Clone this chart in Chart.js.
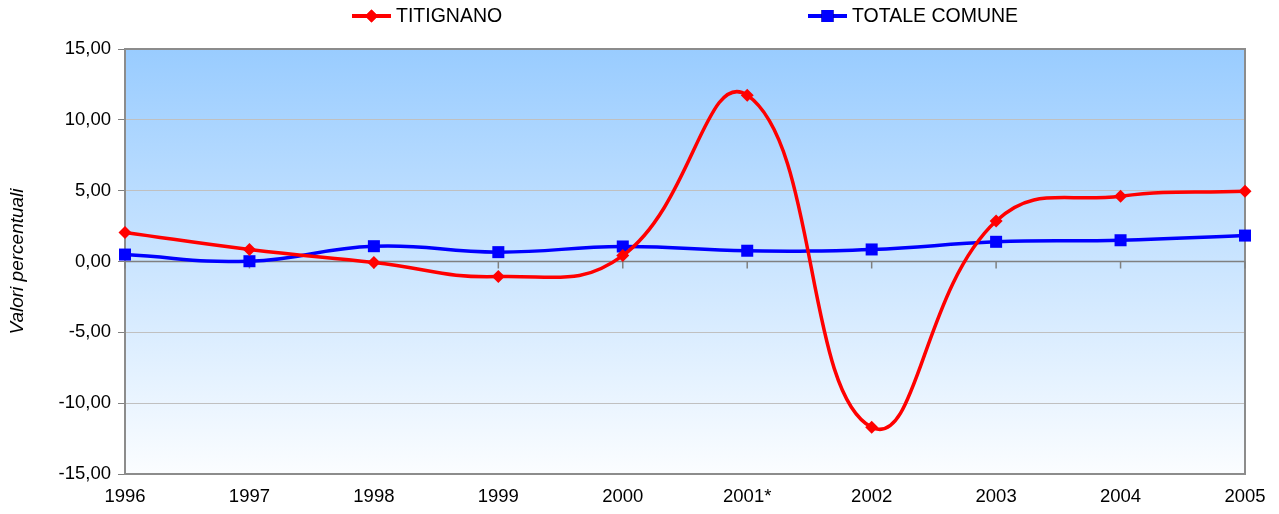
<!DOCTYPE html>
<html>
<head>
<meta charset="utf-8">
<script src="https://cdn.jsdelivr.net/npm/chart.js"></script>
<style>
    html, body { margin: 0; padding: 0; background: #ffffff; }
    #wrap { width: 1279px; height: 514px; }
</style>
</head>
<body>
<div id="wrap"><canvas id="chart" width="1279" height="514"></canvas></div>
<script>
const years = ['1996', '1997', '1998', '1999', '2000', '2001*', '2002', '2003', '2004', '2005'];
const titignano = [2.05, 0.85, -0.07, -1.06, 0.42, 11.74, -11.70, 2.86, 4.61, 4.96];
const totaleComune = [0.49, 0.02, 1.08, 0.66, 1.06, 0.76, 0.85, 1.39, 1.50, 1.83];
const yTicks = [-15, -10, -5, 0, 5, 10, 15];

const FONT = 'Arial, "Liberation Sans", sans-serif';

// gradient behind the plot area
const plotBackground = {
    id: 'plotBackground',
    beforeDraw(chart) {
        const { ctx, chartArea: a } = chart;
        const g = ctx.createLinearGradient(0, a.top, 0, a.bottom);
        g.addColorStop(0, '#99ccff');
        g.addColorStop(1, '#fbfdff');
        ctx.save();
        ctx.fillStyle = g;
        ctx.fillRect(a.left, a.top, a.right - a.left, a.bottom - a.top);
        ctx.restore();
    },
    beforeDatasetsDraw(chart) {
        const { ctx, chartArea: a, scales } = chart;
        ctx.save();
        // frame
        ctx.strokeStyle = '#8c8c8c';
        ctx.lineWidth = 2;
        ctx.strokeRect(a.left, a.top, a.right - a.left, a.bottom - a.top);
        // category axis sits on zero, with short tick marks
        const y0 = scales.y.getPixelForValue(0);
        ctx.strokeStyle = '#808080';
        ctx.lineWidth = 1.5;
        ctx.beginPath();
        ctx.moveTo(a.left, y0);
        ctx.lineTo(a.right, y0);
        years.forEach((_, i) => {
            const x = scales.x.getPixelForValue(i);
            ctx.moveTo(x, y0);
            ctx.lineTo(x, y0 + 7);
        });
        ctx.stroke();
        ctx.restore();
    }
};

// Excel-like legend: line with marker, items far apart
const topLegend = {
    id: 'topLegend',
    afterDraw(chart) {
        const ctx = chart.ctx;
        const items = [
            { ds: 0, x: 352, text: 'TITIGNANO' },
            { ds: 1, x: 808, text: 'TOTALE COMUNE' }
        ];
        const y = 16;
        ctx.save();
        items.forEach(it => {
            const ds = chart.data.datasets[it.ds];
            ctx.strokeStyle = ds.borderColor;
            ctx.lineWidth = 4;
            ctx.beginPath();
            ctx.moveTo(it.x, y);
            ctx.lineTo(it.x + 39, y);
            ctx.stroke();
            Chart.helpers.drawPoint(ctx, {
                pointStyle: ds.pointStyle,
                radius: ds.pointRadius,
                borderWidth: 0
            }, it.x + 19.5, y);
            ctx.fillStyle = ds.borderColor;
            ctx.fill();
            ctx.fillStyle = '#000000';
            ctx.font = '19.5px ' + FONT;
            ctx.textBaseline = 'middle';
            ctx.textAlign = 'left';
            ctx.fillText(it.text, it.x + 44, y + 1);
        });
        ctx.restore();
    }
};

new Chart(document.getElementById('chart'), {
    type: 'line',
    data: {
        labels: years,
        datasets: [
            {
                label: 'TITIGNANO',
                data: titignano,
                borderColor: '#ff0000',
                backgroundColor: '#ff0000',
                borderWidth: 3.5,
                pointStyle: 'rectRot',
                pointRadius: 6.5,
                pointBorderWidth: 0,
                tension: 0.45,
                clip: false
            },
            {
                label: 'TOTALE COMUNE',
                data: totaleComune,
                borderColor: '#0000ff',
                backgroundColor: '#0000ff',
                borderWidth: 3.5,
                pointStyle: 'rect',
                pointRadius: 8.5,
                pointBorderWidth: 0,
                tension: 0.45,
                clip: false
            }
        ]
    },
    options: {
        responsive: false,
        animation: false,
        devicePixelRatio: 1,
        layout: { padding: { top: 49, right: 34, bottom: 0, left: 0 } },
        plugins: {
            legend: { display: false },
            tooltip: { enabled: false }
        },
        scales: {
            x: {
                offset: false,
                grid: { display: false, drawTicks: false },
                border: { display: false },
                ticks: {
                    color: '#000000',
                    font: { family: FONT, size: 18.5 },
                    padding: 12,
                    maxRotation: 0,
                    autoSkip: false
                },
                afterFit(s) { s.height = 40; }
            },
            y: {
                min: -15,
                max: 15,
                afterBuildTicks(s) { s.ticks = yTicks.map(v => ({ value: v })); },
                grid: {
                    color: ctx => ctx.tick && ctx.tick.value === 0 ? '#808080' : '#c0c0c0',
                    lineWidth: 1,
                    tickLength: 7,
                    tickColor: '#808080'
                },
                border: { display: false },
                ticks: {
                    color: '#000000',
                    font: { family: FONT, size: 18.5 },
                    padding: 7,
                    callback: v => v.toFixed(2).replace('.', ',')
                },
                title: {
                    display: true,
                    text: 'Valori percentuali',
                    color: '#000000',
                    font: { family: FONT, size: 19, style: 'italic' },
                    padding: { top: 6, bottom: 0 }
                },
                afterFit(s) { s.width = 125; }
            }
        }
    },
    plugins: [plotBackground, topLegend]
});
</script>
</body>
</html>
